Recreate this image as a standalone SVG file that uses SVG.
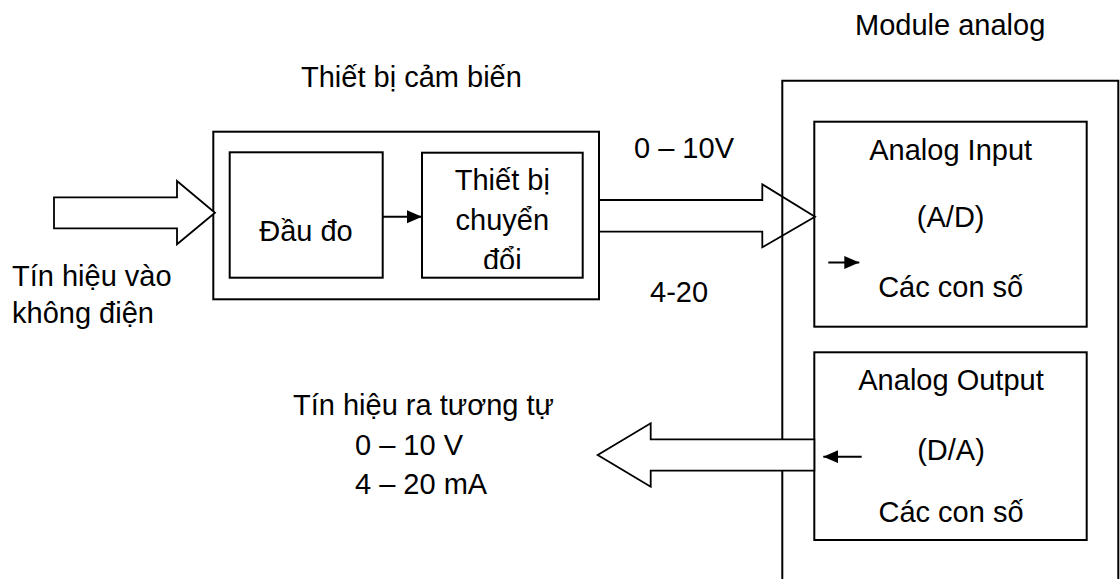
<svg xmlns="http://www.w3.org/2000/svg" width="1120" height="579" viewBox="0 0 1120 579">
<style>
text{font-family:"Liberation Sans",Arial,sans-serif;font-size:29px;fill:#000}
.box{fill:none;stroke:#000;stroke-width:2}
.big{stroke:#000;stroke-width:1.8;stroke-linejoin:miter}
.thin{stroke:#000;stroke-width:2;fill:none}
.c{text-anchor:middle}
</style>
<defs>
<marker id="ah" markerUnits="userSpaceOnUse" markerWidth="16" markerHeight="14" refX="15" refY="6.5" orient="auto">
<path d="M0,0 L15,6.5 L0,13 Z" fill="#000"/>
</marker>
<clipPath id="clipConv"><rect x="422" y="152" width="161" height="117"/></clipPath>
</defs>
<rect width="1120" height="579" fill="#fff"/>

<g id="labels">
<text x="855" y="35">Module analog</text>
<text x="301" y="87">Thiết bị cảm biến</text>
<text x="634" y="158">0 – 10V</text>
<text x="650" y="302">4-20</text>
<text x="12" y="286">Tín hiệu vào</text>
<text x="12" y="323">không điện</text>
<text x="293" y="415">Tín hiệu ra tương tự</text>
<text x="355" y="455">0 – 10 V</text>
<text x="355" y="494">4 – 20 mA</text>
</g>

<g id="module-analog">
<path class="box" d="M782.3,590 V80.7 H1118.3 V590"/>
</g>

<g id="sensor-device">
<rect class="box" x="213.3" y="131.7" width="385.7" height="167.6"/>
</g>

<g id="dau-do">
<rect class="box" x="229.7" y="152.3" width="153" height="125.4"/>
<text x="306" y="241" class="c">Đầu đo</text>
</g>

<g id="converter">
<rect class="box" x="422" y="152.7" width="160.7" height="125"/>
<g clip-path="url(#clipConv)">
<text x="502.3" y="190" class="c">Thiết bị</text>
<text x="502.3" y="230" class="c">chuyển</text>
<text x="502.3" y="270" class="c">đổi</text>
</g>
</g>

<g id="analog-input">
<rect class="box" x="814.3" y="121.7" width="272.4" height="205"/>
<text x="950.7" y="160" class="c">Analog Input</text>
<text x="950.7" y="227" class="c">(A/D)</text>
<text x="950.7" y="297" class="c">Các con số</text>
</g>

<g id="analog-output">
<rect class="box" x="814.3" y="352.3" width="272.4" height="187.7"/>
<text x="951" y="390" class="c">Analog Output</text>
<text x="951" y="460" class="c">(D/A)</text>
<text x="951" y="522" class="c">Các con số</text>
</g>

<g id="connectors">
<polygon class="big" fill="#fff" points="54,197.3 177,197.3 177,181 215,212.7 177,244.3 177,228.3 54,228.3"/>
<polyline class="big" fill="none" points="599,200 762.3,200 762.3,184.3 815,216.7 762.3,247.3 762.3,231.7 599,231.7"/>
<polygon class="big" fill="#fff" points="814.3,439.3 650.7,439.3 650.7,423.3 597.7,455 650.7,486.7 650.7,470.7 814.3,470.7"/>
<line class="thin" x1="382.7" y1="216.7" x2="422" y2="216.7" marker-end="url(#ah)"/>
<line class="thin" x1="828.3" y1="262.5" x2="859.3" y2="262.5" marker-end="url(#ah)"/>
<line class="thin" x1="861.7" y1="456.7" x2="823.3" y2="456.7" marker-end="url(#ah)"/>
</g>
</svg>
